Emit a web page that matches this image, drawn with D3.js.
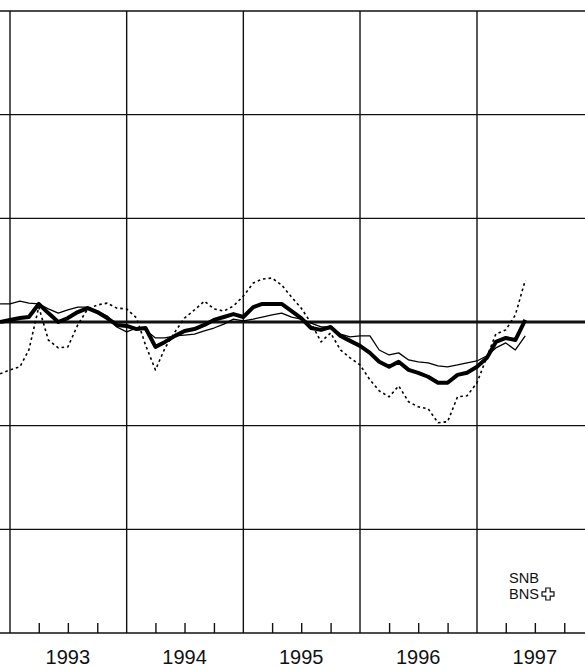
<!DOCTYPE html>
<html>
<head>
<meta charset="utf-8">
<script src="https://cdn.jsdelivr.net/npm/d3@7"></script>
<style>
  html, body { margin: 0; padding: 0; background: #fff; }
  svg { display: block; }
</style>
</head>
<body>
<svg id="chart" width="585" height="669"></svg>
<script>
// ---- data (monthly, Dec 1992 – Jun 1997) ----
const months = [
  "1992-12",
  "1993-01","1993-02","1993-03","1993-04","1993-05","1993-06","1993-07","1993-08","1993-09","1993-10","1993-11","1993-12",
  "1994-01","1994-02","1994-03","1994-04","1994-05","1994-06","1994-07","1994-08","1994-09","1994-10","1994-11","1994-12",
  "1995-01","1995-02","1995-03","1995-04","1995-05","1995-06","1995-07","1995-08","1995-09","1995-10","1995-11","1995-12",
  "1996-01","1996-02","1996-03","1996-04","1996-05","1996-06","1996-07","1996-08","1996-09","1996-10","1996-11","1996-12",
  "1997-01","1997-02","1997-03","1997-04","1997-05","1997-06"
];
const seriesThick = [
  0.00,
  0.10, 0.19, 0.24, 0.87, 0.43, 0.00, 0.19, 0.48, 0.67, 0.48, 0.19, -0.14,
  -0.19, -0.34, -0.29, -1.20, -0.96, -0.67, -0.43, -0.34, -0.14, 0.10, 0.24, 0.38,
  0.24, 0.72, 0.87, 0.87, 0.87, 0.53, 0.19, -0.29, -0.38, -0.24, -0.67, -0.91,
  -1.15, -1.49, -1.92, -2.16, -1.92, -2.31, -2.45, -2.64, -2.93, -2.93, -2.55, -2.45,
  -2.16, -1.73, -0.96, -0.77, -0.87, 0.10
];
const seriesThin = [
  0.87,
  0.87, 1.01, 0.91, 0.87, 0.63, 0.43, 0.58, 0.72, 0.72, 0.53, 0.29, -0.24,
  -0.48, -0.29, -0.38, -0.77, -0.77, -0.67, -0.63, -0.58, -0.43, -0.29, -0.10, 0.14,
  0.05, 0.14, 0.24, 0.34, 0.43, 0.24, 0.14, -0.05, -0.24, -0.24, -0.58, -0.72,
  -0.67, -0.67, -1.35, -1.59, -1.49, -1.83, -1.92, -1.97, -2.12, -2.16, -2.07, -1.97,
  -1.88, -1.63, -1.25, -1.01, -1.35, -0.67
];
const seriesDotted = [
  -2.50,
  -2.31, -2.16, -1.35, 0.72, -0.87, -1.25, -1.20, -0.14, 0.63, 0.82, 0.91, 0.67,
  0.63, 0.19, -1.11, -2.31, -1.25, -0.48, 0.19, 0.58, 1.01, 0.63, 0.53, 0.77,
  1.25, 1.88, 2.07, 2.12, 1.78, 1.20, 0.67, -0.05, -0.96, -0.53, -1.35, -1.73,
  -2.07, -2.79, -3.32, -3.61, -3.08, -3.85, -4.09, -4.18, -4.86, -4.81, -3.61, -3.56,
  -2.93, -1.68, -0.58, -0.38, 0.34, 2.02
];
const yearLabels = ["1993","1994","1995","1996","1997"];
const gridValues = [-15, -10, -5, 0, 5, 10, 15];
const legendLines = ["SNB", "BNS"];

// ---- scales ----
const W = 585, H = 669;
const parse = d3.utcParse("%Y-%m");
const x = d3.scaleUtc()
  .domain([Date.UTC(1993,0,1), Date.UTC(1997,0,1)])
  .range([10, 477]);
const y = d3.scaleLinear().domain([-15, 15]).range([633, 11]);

const svg = d3.select("#chart");

// horizontal grid
svg.append("g").selectAll("line")
  .data(gridValues)
  .join("line")
  .attr("x1", 0).attr("x2", W)
  .attr("y1", d => y(d)).attr("y2", d => y(d))
  .attr("stroke", "#111")
  .attr("stroke-width", d => d === 0 ? 3 : (d === -15 ? 1.6 : 1.3));

// vertical year grid
const yearStarts = d3.utcYear.range(Date.UTC(1993,0,1), Date.UTC(1998,0,1));
svg.append("g").selectAll("line")
  .data(yearStarts.filter(d => x(d) <= W))
  .join("line")
  .attr("x1", d => x(d)).attr("x2", d => x(d))
  .attr("y1", y(15)).attr("y2", y(-15))
  .attr("stroke", "#111").attr("stroke-width", 1.4);

// minor quarter ticks via d3 axis
const quarterTicks = d3.utcMonth.range(Date.UTC(1992,9,1), Date.UTC(1998,0,1), 3)
  .filter(d => d.getUTCMonth() !== 0 && x(d) >= 0 && x(d) <= W);
const axis = d3.axisBottom(x)
  .tickValues(quarterTicks)
  .tickSizeInner(-10).tickSizeOuter(0)
  .tickFormat("");
const gAxis = svg.append("g").attr("transform", `translate(0,${y(-15)})`).call(axis);
gAxis.select(".domain").remove();
gAxis.selectAll(".tick line").attr("stroke", "#111").attr("stroke-width", 1.4);

// year labels
svg.append("g").selectAll("text")
  .data(yearLabels)
  .join("text")
  .attr("x", d => x(Date.UTC(+d, 6, 1)))
  .attr("y", 664)
  .attr("text-anchor", "middle")
  .attr("font-family", "'Liberation Sans', Arial, sans-serif")
  .attr("font-size", 20)
  .attr("fill", "#111")
  .text(d => d);

// lines
const dates = months.map(parse);
function drawSeries(values, width, dash) {
  const line = d3.line()
    .x((d, i) => x(dates[i]))
    .y(d => y(d));
  svg.append("path")
    .datum(values)
    .attr("d", line)
    .attr("fill", "none")
    .attr("stroke", "#000")
    .attr("stroke-width", width)
    .attr("stroke-linejoin", "round")
    .attr("stroke-dasharray", dash || null);
}
drawSeries(seriesDotted, 1.6, "2.6,3");
drawSeries(seriesThin, 1.3);
drawSeries(seriesThick, 4);

// legend (SNB / BNS + cross)
const lg = svg.append("g")
  .attr("font-family", "'Liberation Sans', Arial, sans-serif")
  .attr("font-size", 14)
  .attr("fill", "#111");
lg.selectAll("text")
  .data(legendLines)
  .join("text")
  .attr("x", 509)
  .attr("y", (d, i) => 583 + i * 16)
  .attr("textLength", 30)
  .attr("lengthAdjust", "spacingAndGlyphs")
  .text(d => d);
// Swiss cross outline
const cx = 548, cy = 594, a = 2.2, b = 6;
const crossPts = [
  [-a,-b],[a,-b],[a,-a],[b,-a],[b,a],[a,a],[a,b],[-a,b],[-a,a],[-b,a],[-b,-a],[-a,-a]
];
svg.append("path")
  .attr("d", d3.line()(crossPts.map(p => [cx + p[0], cy + p[1]])) + "Z")
  .attr("fill", "none").attr("stroke", "#111").attr("stroke-width", 1.2);
</script>
</body>
</html>
